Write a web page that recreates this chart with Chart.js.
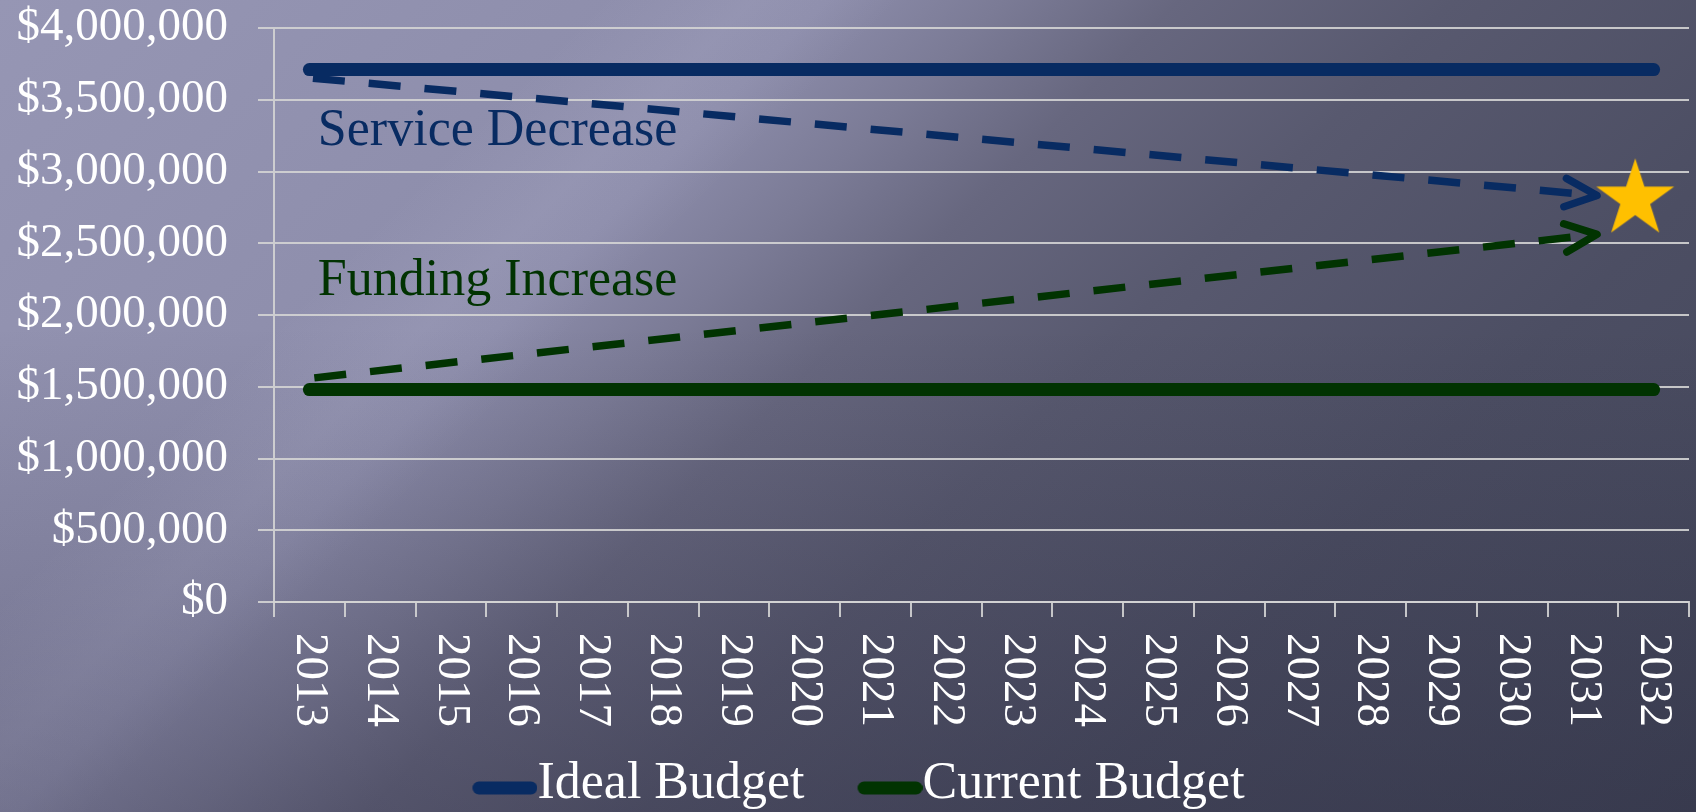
<!DOCTYPE html>
<html><head><meta charset="utf-8">
<script src="https://cdn.jsdelivr.net/npm/chart.js@4.4.1/dist/chart.umd.min.js"></script>
<style>
html,body{margin:0;padding:0;width:1696px;height:812px;overflow:hidden;}
#wrap{position:relative;width:1696px;height:812px;
background:
 linear-gradient(to bottom, rgba(20,20,40,0) 40%, rgba(20,20,40,0.24) 100%),
 linear-gradient(135deg, rgba(255,255,255,0) 24%, rgba(215,215,240,0.10) 30%, rgba(255,255,255,0) 36%),
 linear-gradient(135deg, #9696b4 0%, #9090ae 20%, #8c8caa 33%, #7b7b96 40%, #67677f 47%, #58596f 58%, #4c4e63 75%, #43465a 100%);
}
canvas{display:block;}
</style></head><body>
<div id="wrap"><canvas id="c" width="1696" height="812"></canvas></div>
<script>
// ---- data ----
const years = ['2013','2014','2015','2016','2017','2018','2019','2020','2021','2022','2023','2024','2025','2026','2027','2028','2029','2030','2031','2032'];
const idealBudget = [3710000,3710000,3710000,3710000,3710000,3710000,3710000,3710000,3710000,3710000,3710000,3710000,3710000,3710000,3710000,3710000,3710000,3710000,3710000,3710000];
const currentBudget = [1480000,1480000,1480000,1480000,1480000,1480000,1480000,1480000,1480000,1480000,1480000,1480000,1480000,1480000,1480000,1480000,1480000,1480000,1480000,1480000];
const serviceDecreaseX = [0.05, 18.2];
const serviceDecreaseY = [3650000, 2833000];
const fundingIncreaseX = [0.07, 18.2];
const fundingIncreaseY = [1562000, 2562000];
const targetX = [18.74];
const targetY = [2806000];
const seriesNames = ['Ideal Budget', 'Current Budget'];
const noteTexts = ['Service Decrease', 'Funding Increase'];
const noteX = [0.12, 0.12];
const noteY = [3187500, 2139000];

// ---- style ----
const FONT = '"Liberation Serif", "Times New Roman", serif';
const NAVY = '#082b62';
const GREEN = '#013301';
const GOLD = '#ffc000';
const GRID = 'rgba(212,212,212,0.9)';

function swatch(color){
  const c = document.createElement('canvas'); c.width = 91; c.height = 24;
  const g = c.getContext('2d'); g.fillStyle = color; g.beginPath();
  g.roundRect(26, 9.5, 65, 13, 6.5); g.fill(); return c;
}
function starImg(color, R){
  const s = Math.ceil(R*2+4); const c = document.createElement('canvas'); c.width = s; c.height = s;
  const g = c.getContext('2d'); g.fillStyle = color; g.beginPath();
  const cx = s/2, cy = s/2, r = R*0.382;
  for (let k=0;k<10;k++){ const rr = k%2 ? r : R; const a = -Math.PI/2 + k*Math.PI/5; g.lineTo(cx+rr*Math.cos(a), cy+rr*Math.sin(a)); }
  g.closePath(); g.fill(); return c;
}

const extras = {
  id: 'extras',
  afterLayout(chart){
    const l = chart.legend;
    if (l) { l.left += 28; l.top += 8; l.bottom += 8; }
  },
  afterDatasetsDraw(chart){
    const ctx = chart.ctx;
    chart.data.datasets.forEach((ds,i)=>{
      if(!ds.arrowHead) return;
      const pts = chart.getDatasetMeta(i).data;
      const a = pts[pts.length-2], b = pts[pts.length-1];
      const ang = Math.atan2(b.y-a.y, b.x-a.x), L = 35, H = 24*Math.PI/180;
      ctx.save(); ctx.strokeStyle = ds.borderColor; ctx.lineWidth = 7.5; ctx.lineCap='round'; ctx.lineJoin='round';
      ctx.beginPath();
      ctx.moveTo(b.x - L*Math.cos(ang - H), b.y - L*Math.sin(ang - H));
      ctx.lineTo(b.x, b.y);
      ctx.lineTo(b.x - L*Math.cos(ang + H), b.y - L*Math.sin(ang + H));
      ctx.stroke(); ctx.restore();
    });
    const xs = chart.scales.xl, ys = chart.scales.y;
    const colors = [NAVY, GREEN];
    ctx.save(); ctx.font = '52px ' + FONT; ctx.textAlign='left'; ctx.textBaseline='alphabetic';
    noteTexts.forEach((t,i)=>{ ctx.fillStyle = colors[i]; ctx.fillText(t, xs.getPixelForValue(noteX[i]), ys.getPixelForValue(noteY[i])); });
    ctx.restore();
  },
  afterDraw(chart){
    const ctx = chart.ctx, xs = chart.scales.x, top = chart.chartArea.bottom + 31;
    ctx.save(); ctx.font = '47px ' + FONT; ctx.fillStyle = '#ffffff'; ctx.textAlign='left'; ctx.textBaseline='middle';
    years.forEach((lab,i)=>{ ctx.save(); ctx.translate(xs.getPixelForValue(i), top); ctx.rotate(Math.PI/2); ctx.fillText(lab,0,0); ctx.restore(); });
    ctx.restore();
  }
};

new Chart(document.getElementById('c'), {
  type: 'line',
  data: {
    labels: years,
    datasets: [
      {label: seriesNames[0], data: idealBudget, borderColor: NAVY, backgroundColor: NAVY, borderWidth: 13, borderCapStyle: 'round', pointRadius: 0, pointStyle: swatch(NAVY), xAxisID: 'x'},
      {label: seriesNames[1], data: currentBudget, borderColor: GREEN, backgroundColor: GREEN, borderWidth: 13, borderCapStyle: 'round', pointRadius: 0, pointStyle: swatch(GREEN), xAxisID: 'x'},
      {label: noteTexts[0], data: serviceDecreaseX.map((x,i)=>({x, y: serviceDecreaseY[i]})), borderColor: NAVY, borderWidth: 7.5, borderDash: [32,24], borderCapStyle: 'butt', pointRadius: 0, xAxisID: 'xl', arrowHead: true},
      {label: noteTexts[1], data: fundingIncreaseX.map((x,i)=>({x, y: fundingIncreaseY[i]})), borderColor: GREEN, borderWidth: 7.5, borderDash: [32,24], borderCapStyle: 'butt', pointRadius: 0, xAxisID: 'xl', arrowHead: true},
      {label: 'Target', data: targetX.map((x,i)=>({x, y: targetY[i]})), showLine: false, pointRadius: 5, pointStyle: starImg(GOLD, 41), xAxisID: 'xl'}
    ]
  },
  options: {
    responsive: false, animation: false, events: [],
    layout: {padding: {left: 0, right: 7, top: 28, bottom: 0}},
    scales: {
      x: {type: 'category', offset: true,
          grid: {display: true, drawOnChartArea: false, drawTicks: true, tickLength: 15, offset: true, color: GRID, lineWidth: 2},
          border: {display: true, color: GRID, width: 2},
          ticks: {display: false},
          afterFit: s => { s.height = 95; s.paddingLeft = 0; s.paddingRight = 0; }},
      xl: {type: 'linear', display: false, min: -0.5, max: 19.5, position: 'bottom'},
      y: {min: 0, max: 4000000,
          grid: {color: GRID, lineWidth: 2, tickLength: 16},
          border: {display: true, color: GRID, width: 2},
          ticks: {stepSize: 500000, color: '#ffffff', padding: 30, font: {family: FONT, size: 47},
                  callback: v => '$' + Number(v).toLocaleString('en-US')},
          afterFit: s => { s.width = 274; s.paddingTop = 0; s.paddingBottom = 0; }}
    },
    plugins: {
      legend: {position: 'bottom',
        labels: {color: '#ffffff', font: {family: FONT, size: 52}, usePointStyle: true, pointStyleWidth: 39, padding: 53,
                 filter: item => item.datasetIndex < 2}},
      tooltip: {enabled: false}
    }
  },
  plugins: [extras]
});
</script>
</body></html>
